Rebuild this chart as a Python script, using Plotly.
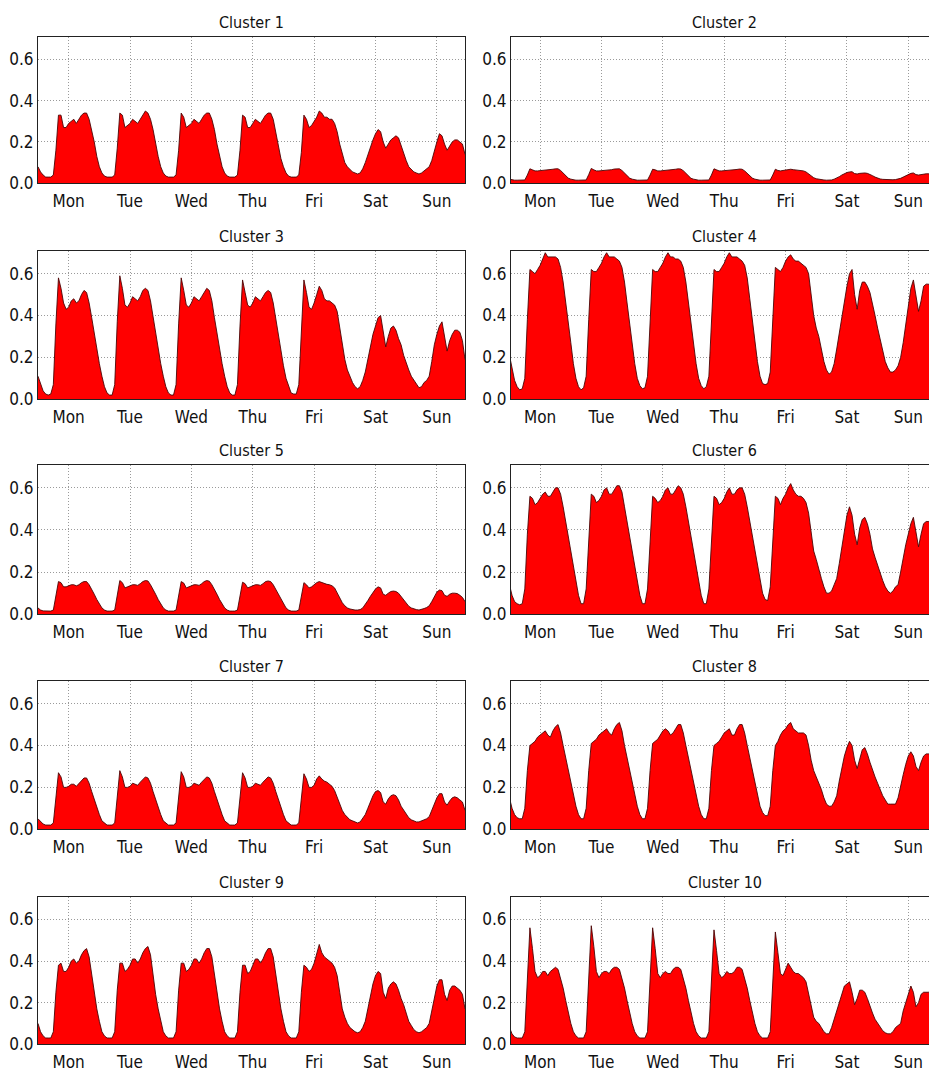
import plotly.graph_objects as go

day_labels = ["Mon", "Tue", "Wed", "Thu", "Fri", "Sat", "Sun"]
titles = ["Cluster %d" % i for i in range(1, 11)]
y_ticks = [0.0, 0.2, 0.4, 0.6]

# hourly mean values, one list of 24 values per day (Mon..Sun)
cluster1 = [
    [0.08,0.055,0.04,0.03,0.03,0.03,0.04,0.16,0.33,0.33,0.27,0.27,0.29,0.30,0.31,0.29,0.31,0.33,0.34,0.34,0.31,0.26,0.20,0.13],
    [0.08,0.05,0.035,0.03,0.03,0.03,0.04,0.17,0.34,0.33,0.27,0.28,0.29,0.31,0.30,0.29,0.31,0.33,0.35,0.34,0.31,0.26,0.19,0.13],
    [0.08,0.05,0.035,0.03,0.03,0.03,0.04,0.16,0.34,0.32,0.27,0.28,0.29,0.31,0.30,0.29,0.31,0.33,0.34,0.34,0.31,0.26,0.19,0.13],
    [0.08,0.05,0.035,0.03,0.03,0.03,0.04,0.16,0.33,0.32,0.27,0.27,0.29,0.31,0.30,0.29,0.31,0.33,0.34,0.34,0.31,0.25,0.19,0.12],
    [0.08,0.05,0.035,0.03,0.03,0.03,0.04,0.15,0.33,0.31,0.27,0.28,0.30,0.32,0.35,0.34,0.32,0.32,0.31,0.31,0.29,0.25,0.19,0.14],
    [0.10,0.08,0.065,0.055,0.05,0.045,0.05,0.07,0.10,0.14,0.18,0.21,0.24,0.26,0.25,0.20,0.17,0.19,0.21,0.22,0.23,0.22,0.18,0.14],
    [0.11,0.08,0.065,0.055,0.05,0.045,0.05,0.06,0.07,0.08,0.11,0.16,0.20,0.24,0.23,0.19,0.16,0.18,0.20,0.21,0.21,0.20,0.19,0.14],
]
cluster2 = [
    [0.02,0.017,0.015,0.015,0.015,0.015,0.016,0.04,0.07,0.065,0.06,0.06,0.061,0.062,0.064,0.063,0.065,0.068,0.07,0.07,0.062,0.048,0.035,0.025],
    [0.02,0.016,0.015,0.015,0.015,0.015,0.016,0.042,0.072,0.065,0.06,0.06,0.061,0.063,0.065,0.063,0.066,0.069,0.071,0.07,0.062,0.048,0.035,0.025],
    [0.02,0.016,0.015,0.015,0.015,0.015,0.016,0.04,0.068,0.065,0.06,0.06,0.061,0.063,0.064,0.063,0.066,0.068,0.07,0.069,0.061,0.047,0.034,0.024],
    [0.02,0.016,0.015,0.015,0.015,0.015,0.016,0.04,0.07,0.065,0.06,0.06,0.061,0.062,0.064,0.062,0.065,0.067,0.069,0.068,0.06,0.047,0.034,0.025],
    [0.02,0.016,0.015,0.015,0.015,0.015,0.016,0.04,0.068,0.062,0.06,0.062,0.064,0.066,0.068,0.066,0.065,0.064,0.062,0.06,0.055,0.045,0.035,0.027],
    [0.022,0.019,0.017,0.016,0.015,0.015,0.016,0.02,0.025,0.032,0.04,0.047,0.052,0.055,0.056,0.047,0.045,0.048,0.05,0.05,0.048,0.044,0.037,0.03],
    [0.025,0.021,0.019,0.018,0.017,0.017,0.017,0.018,0.02,0.024,0.03,0.037,0.044,0.048,0.05,0.042,0.04,0.043,0.045,0.046,0.046,0.045,0.042,0.035],
]
cluster3 = [
    [0.11,0.07,0.04,0.025,0.02,0.025,0.07,0.36,0.58,0.53,0.46,0.43,0.44,0.47,0.48,0.46,0.47,0.50,0.52,0.51,0.46,0.39,0.31,0.24],
    [0.17,0.11,0.06,0.03,0.02,0.02,0.07,0.37,0.59,0.53,0.45,0.44,0.46,0.49,0.48,0.47,0.49,0.52,0.53,0.52,0.47,0.39,0.31,0.24],
    [0.17,0.11,0.06,0.03,0.02,0.02,0.07,0.36,0.58,0.52,0.45,0.44,0.46,0.49,0.48,0.47,0.49,0.51,0.53,0.52,0.47,0.39,0.31,0.24],
    [0.17,0.11,0.06,0.03,0.02,0.02,0.07,0.35,0.57,0.51,0.45,0.44,0.46,0.49,0.48,0.47,0.49,0.51,0.52,0.51,0.46,0.38,0.30,0.23],
    [0.16,0.10,0.06,0.03,0.025,0.025,0.07,0.34,0.57,0.51,0.44,0.43,0.46,0.50,0.54,0.52,0.48,0.47,0.47,0.46,0.45,0.42,0.34,0.25],
    [0.19,0.14,0.11,0.08,0.06,0.05,0.06,0.09,0.13,0.19,0.25,0.31,0.35,0.39,0.40,0.33,0.25,0.30,0.34,0.35,0.33,0.29,0.26,0.21],
    [0.17,0.14,0.11,0.09,0.07,0.055,0.06,0.08,0.09,0.11,0.18,0.26,0.31,0.35,0.37,0.30,0.23,0.28,0.31,0.33,0.33,0.32,0.28,0.19],
]
cluster4 = [
    [0.21,0.15,0.09,0.06,0.045,0.05,0.10,0.38,0.62,0.61,0.60,0.62,0.64,0.67,0.70,0.68,0.68,0.68,0.68,0.67,0.63,0.56,0.47,0.37],
    [0.27,0.17,0.10,0.06,0.045,0.055,0.11,0.38,0.62,0.61,0.61,0.63,0.65,0.68,0.70,0.68,0.68,0.68,0.67,0.66,0.63,0.56,0.46,0.36],
    [0.26,0.17,0.10,0.065,0.05,0.055,0.11,0.38,0.62,0.61,0.61,0.63,0.65,0.68,0.70,0.68,0.68,0.67,0.67,0.66,0.63,0.56,0.46,0.36],
    [0.26,0.17,0.10,0.065,0.05,0.06,0.11,0.38,0.62,0.61,0.61,0.63,0.65,0.68,0.70,0.68,0.68,0.68,0.67,0.66,0.64,0.58,0.48,0.37],
    [0.27,0.18,0.11,0.075,0.07,0.075,0.13,0.40,0.63,0.62,0.61,0.63,0.66,0.68,0.69,0.67,0.66,0.66,0.65,0.64,0.63,0.60,0.50,0.40],
    [0.34,0.30,0.24,0.18,0.14,0.12,0.13,0.17,0.24,0.32,0.40,0.47,0.54,0.60,0.62,0.50,0.43,0.52,0.56,0.56,0.54,0.51,0.46,0.40],
    [0.34,0.29,0.23,0.18,0.15,0.13,0.13,0.14,0.16,0.20,0.27,0.36,0.45,0.53,0.57,0.50,0.42,0.47,0.54,0.55,0.55,0.53,0.45,0.32],
]
cluster5 = [
    [0.03,0.02,0.016,0.015,0.015,0.015,0.02,0.09,0.155,0.15,0.13,0.13,0.135,0.14,0.14,0.135,0.14,0.15,0.155,0.155,0.14,0.12,0.095,0.07],
    [0.05,0.03,0.02,0.015,0.015,0.015,0.02,0.09,0.16,0.15,0.125,0.13,0.135,0.14,0.14,0.137,0.145,0.155,0.16,0.158,0.14,0.12,0.095,0.07],
    [0.05,0.03,0.02,0.015,0.015,0.015,0.02,0.09,0.155,0.148,0.125,0.13,0.135,0.14,0.14,0.137,0.145,0.155,0.16,0.157,0.14,0.12,0.095,0.07],
    [0.05,0.03,0.02,0.015,0.015,0.015,0.02,0.09,0.152,0.145,0.125,0.13,0.135,0.14,0.14,0.137,0.145,0.155,0.158,0.155,0.14,0.118,0.092,0.068],
    [0.048,0.03,0.02,0.015,0.015,0.015,0.02,0.09,0.15,0.14,0.125,0.13,0.14,0.15,0.155,0.15,0.145,0.142,0.14,0.135,0.125,0.10,0.075,0.055],
    [0.04,0.03,0.025,0.022,0.02,0.02,0.022,0.03,0.045,0.065,0.085,0.105,0.12,0.13,0.125,0.095,0.09,0.10,0.108,0.11,0.108,0.10,0.085,0.065],
    [0.05,0.038,0.03,0.025,0.022,0.02,0.022,0.027,0.032,0.04,0.06,0.085,0.105,0.115,0.112,0.09,0.085,0.095,0.10,0.10,0.098,0.09,0.08,0.06],
]
cluster6 = [
    [0.14,0.09,0.06,0.05,0.045,0.05,0.12,0.38,0.56,0.55,0.52,0.53,0.55,0.57,0.58,0.56,0.56,0.58,0.60,0.60,0.57,0.51,0.44,0.37],
    [0.30,0.22,0.15,0.09,0.05,0.05,0.12,0.38,0.57,0.56,0.53,0.54,0.56,0.59,0.60,0.57,0.57,0.59,0.61,0.61,0.58,0.51,0.44,0.37],
    [0.30,0.22,0.15,0.09,0.05,0.05,0.12,0.37,0.56,0.55,0.53,0.54,0.56,0.59,0.60,0.57,0.57,0.59,0.61,0.60,0.57,0.51,0.44,0.37],
    [0.30,0.22,0.15,0.09,0.05,0.05,0.12,0.37,0.56,0.55,0.52,0.53,0.55,0.58,0.60,0.57,0.57,0.59,0.60,0.60,0.57,0.51,0.44,0.37],
    [0.30,0.22,0.15,0.10,0.07,0.065,0.13,0.38,0.56,0.55,0.52,0.55,0.57,0.60,0.62,0.59,0.57,0.56,0.56,0.55,0.53,0.48,0.38,0.30],
    [0.26,0.21,0.17,0.13,0.10,0.10,0.11,0.14,0.17,0.24,0.32,0.40,0.47,0.51,0.47,0.38,0.33,0.41,0.45,0.46,0.43,0.38,0.31,0.27],
    [0.23,0.19,0.16,0.13,0.11,0.10,0.11,0.13,0.14,0.20,0.27,0.33,0.38,0.43,0.46,0.38,0.32,0.38,0.43,0.44,0.44,0.43,0.38,0.30],
]
cluster7 = [
    [0.05,0.035,0.025,0.02,0.02,0.02,0.03,0.14,0.27,0.25,0.20,0.20,0.205,0.215,0.215,0.205,0.22,0.235,0.245,0.245,0.22,0.18,0.14,0.10],
    [0.07,0.04,0.03,0.02,0.02,0.02,0.03,0.15,0.28,0.25,0.20,0.20,0.205,0.22,0.215,0.21,0.225,0.24,0.25,0.245,0.22,0.18,0.14,0.10],
    [0.07,0.04,0.03,0.02,0.02,0.02,0.03,0.14,0.275,0.25,0.20,0.20,0.205,0.22,0.215,0.21,0.225,0.24,0.25,0.245,0.22,0.18,0.14,0.10],
    [0.07,0.04,0.03,0.02,0.02,0.02,0.03,0.14,0.27,0.245,0.20,0.20,0.205,0.22,0.215,0.21,0.225,0.24,0.25,0.245,0.22,0.18,0.14,0.10],
    [0.07,0.04,0.03,0.02,0.02,0.02,0.03,0.14,0.265,0.24,0.20,0.20,0.21,0.24,0.255,0.24,0.23,0.225,0.215,0.205,0.185,0.155,0.12,0.09],
    [0.07,0.055,0.045,0.04,0.035,0.03,0.035,0.05,0.07,0.10,0.13,0.16,0.18,0.185,0.175,0.13,0.12,0.145,0.16,0.165,0.16,0.14,0.11,0.09],
    [0.07,0.055,0.045,0.04,0.035,0.035,0.04,0.045,0.05,0.06,0.09,0.12,0.15,0.17,0.17,0.13,0.115,0.135,0.15,0.155,0.15,0.14,0.13,0.09],
]
cluster8 = [
    [0.15,0.10,0.07,0.055,0.05,0.05,0.10,0.28,0.40,0.41,0.42,0.44,0.45,0.46,0.47,0.45,0.44,0.47,0.49,0.50,0.46,0.40,0.34,0.28],
    [0.22,0.16,0.11,0.07,0.05,0.05,0.10,0.28,0.41,0.42,0.43,0.45,0.46,0.47,0.48,0.46,0.45,0.48,0.50,0.51,0.47,0.40,0.34,0.28],
    [0.22,0.16,0.11,0.07,0.05,0.05,0.10,0.28,0.41,0.42,0.43,0.45,0.47,0.48,0.47,0.45,0.46,0.48,0.50,0.50,0.46,0.40,0.34,0.28],
    [0.22,0.16,0.11,0.07,0.05,0.05,0.10,0.28,0.40,0.41,0.42,0.44,0.46,0.47,0.48,0.45,0.45,0.48,0.50,0.50,0.46,0.40,0.34,0.28],
    [0.22,0.16,0.11,0.08,0.065,0.065,0.11,0.28,0.40,0.42,0.45,0.47,0.48,0.50,0.51,0.48,0.47,0.46,0.46,0.46,0.45,0.40,0.33,0.28],
    [0.25,0.22,0.19,0.15,0.12,0.11,0.11,0.13,0.16,0.23,0.30,0.35,0.39,0.42,0.40,0.33,0.29,0.34,0.38,0.39,0.36,0.32,0.28,0.25],
    [0.22,0.19,0.16,0.14,0.12,0.12,0.12,0.12,0.15,0.21,0.26,0.31,0.35,0.37,0.35,0.30,0.28,0.32,0.35,0.36,0.36,0.35,0.30,0.25],
]
cluster9 = [
    [0.10,0.06,0.04,0.03,0.03,0.03,0.06,0.25,0.38,0.39,0.35,0.35,0.37,0.40,0.41,0.39,0.40,0.43,0.45,0.46,0.42,0.33,0.24,0.17],
    [0.11,0.06,0.04,0.03,0.03,0.03,0.06,0.26,0.39,0.39,0.35,0.36,0.38,0.41,0.41,0.39,0.41,0.44,0.46,0.47,0.43,0.33,0.24,0.17],
    [0.11,0.06,0.04,0.03,0.03,0.03,0.06,0.26,0.39,0.39,0.35,0.36,0.38,0.41,0.41,0.39,0.41,0.44,0.46,0.46,0.42,0.33,0.24,0.17],
    [0.11,0.06,0.04,0.03,0.03,0.03,0.06,0.25,0.38,0.38,0.34,0.35,0.38,0.41,0.41,0.39,0.41,0.44,0.46,0.46,0.42,0.33,0.24,0.17],
    [0.11,0.06,0.04,0.03,0.03,0.03,0.06,0.25,0.38,0.37,0.35,0.36,0.39,0.44,0.48,0.44,0.42,0.41,0.40,0.39,0.37,0.33,0.25,0.17],
    [0.13,0.10,0.08,0.07,0.06,0.055,0.06,0.08,0.11,0.17,0.23,0.29,0.33,0.35,0.34,0.25,0.22,0.27,0.29,0.30,0.29,0.26,0.22,0.19],
    [0.15,0.11,0.09,0.07,0.06,0.055,0.06,0.07,0.08,0.10,0.16,0.22,0.28,0.31,0.31,0.24,0.21,0.26,0.28,0.28,0.27,0.26,0.24,0.17],
]
cluster10 = [
    [0.08,0.05,0.035,0.03,0.03,0.03,0.06,0.28,0.56,0.46,0.35,0.32,0.33,0.35,0.35,0.33,0.35,0.36,0.37,0.36,0.32,0.27,0.21,0.15],
    [0.10,0.06,0.04,0.03,0.03,0.03,0.06,0.29,0.57,0.47,0.35,0.32,0.34,0.35,0.35,0.34,0.36,0.37,0.37,0.36,0.32,0.27,0.21,0.15],
    [0.10,0.06,0.04,0.03,0.03,0.03,0.06,0.28,0.56,0.46,0.34,0.32,0.34,0.35,0.34,0.34,0.36,0.37,0.37,0.36,0.32,0.27,0.21,0.15],
    [0.10,0.06,0.04,0.03,0.03,0.03,0.06,0.28,0.55,0.45,0.34,0.32,0.33,0.35,0.34,0.34,0.35,0.37,0.37,0.36,0.32,0.27,0.21,0.15],
    [0.10,0.06,0.04,0.03,0.03,0.03,0.06,0.27,0.54,0.44,0.34,0.33,0.36,0.39,0.37,0.35,0.34,0.34,0.33,0.32,0.30,0.24,0.18,0.13],
    [0.11,0.10,0.08,0.06,0.05,0.05,0.08,0.12,0.16,0.20,0.24,0.28,0.29,0.30,0.25,0.19,0.22,0.26,0.26,0.25,0.22,0.18,0.15,0.12],
    [0.10,0.08,0.065,0.055,0.05,0.05,0.06,0.08,0.09,0.10,0.16,0.20,0.25,0.28,0.25,0.18,0.20,0.24,0.25,0.25,0.25,0.24,0.22,0.17],
]

clusters = [cluster1, cluster2, cluster3, cluster4, cluster5,
            cluster6, cluster7, cluster8, cluster9, cluster10]

W, H = 929, 1078
col_px = [(38, 465), (511, 929)]
row_px = [(37, 185), (253, 403), (469, 620), (687, 837), (905, 1054)]
x_ranges = [[0, 167], [0.6, 164.1]]
title_x_px = [251, 724.5]

FONT = "DejaVu Sans Condensed, Liberation Sans Narrow, DejaVu Sans, sans-serif"
day_ticks = [12 + 24 * d for d in range(7)]
GRID = dict(showgrid=True, gridcolor="#9a9a9a", griddash="1px,2px", gridwidth=1)

fig = go.Figure()
annotations = []
for i, cl in enumerate(clusters):
    r, c = divmod(i, 2)
    n = i + 1
    vals = [v for day in cl for v in day]
    hours = list(range(len(vals)))
    xa = "x" if n == 1 else "x%d" % n
    ya = "y" if n == 1 else "y%d" % n
    fig.add_trace(go.Scatter(
        x=hours, y=vals, mode="lines", fill="tozeroy",
        fillcolor="#ff0000", line=dict(color="#4a0606", width=0.9),
        xaxis=xa, yaxis=ya, hoverinfo="skip", showlegend=False))
    x0, x1 = col_px[c]
    top, bot = row_px[r]
    xkey = "xaxis" if n == 1 else "xaxis%d" % n
    ykey = "yaxis" if n == 1 else "yaxis%d" % n
    fig.layout[xkey] = dict(
        domain=[x0 / W, min(1.0, x1 / W)],
        range=x_ranges[c], anchor=ya,
        tickmode="array", tickvals=day_ticks, ticktext=day_labels,
        showline=True, linecolor="#222222", linewidth=1, mirror=True,
        zeroline=False, ticks="", ticklabelstandoff=2,
        tickfont=dict(family=FONT, size=17, color="#111111"),
        fixedrange=True, **GRID)
    fig.layout[ykey] = dict(
        domain=[1 - bot / H, 1 - top / H],
        range=[0, 0.71], anchor=xa,
        tickmode="array", tickvals=y_ticks,
        ticktext=["%.1f" % v for v in y_ticks],
        showline=True, linecolor="#222222", linewidth=1,
        mirror=(c == 0), zeroline=False, ticks="", ticklabelstandoff=0,
        tickfont=dict(family=FONT, size=17, color="#111111"),
        fixedrange=True, **GRID)
    annotations.append(dict(
        text=titles[i], xref="paper", yref="paper",
        x=title_x_px[c] / W, y=1 - (top - 14) / H,
        xanchor="center", yanchor="middle", showarrow=False,
        font=dict(family=FONT, size=16, color="#111111")))

fig.update_layout(
    width=W, height=H, margin=dict(l=0, r=0, t=0, b=0),
    paper_bgcolor="white", plot_bgcolor="white",
    showlegend=False, annotations=annotations)

# remove the default page margin so the figure fills the window exactly
fig.write_html(
    "out.html",
    config={"displayModeBar": False, "staticPlot": True},
    post_script="document.body.style.margin='0';document.body.style.overflow='hidden';")
